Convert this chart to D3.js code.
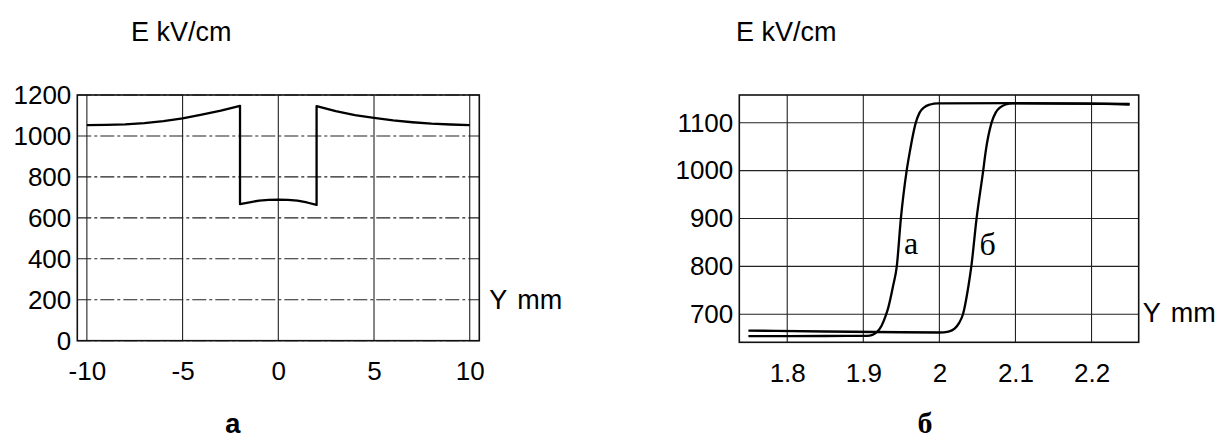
<!DOCTYPE html>
<html>
<head>
<meta charset="utf-8">
<script src="https://cdn.jsdelivr.net/npm/d3@7"></script>
<style>
  body { margin: 0; background: #fff; }
  svg { display: block; font-family: "Liberation Sans", Arial, sans-serif; }
  .grid { stroke: #222; stroke-width: 1.1; }
  .frame { fill: none; stroke: #111; stroke-width: 1.6; }
  .curve { fill: none; stroke: #000; stroke-width: 2.3; stroke-linejoin: round; }
  .tick text { font-size: 26px; fill: #000; }
</style>
</head>
<body>
<svg id="svg" width="1225" height="440"></svg>
<script>
// left panel: field across the whole sample
const leftY = [-10, -9, -8, -7, -6, -5, -4, -3, -2, -2, -1.5, -1, -0.5, 0, 0.5, 1, 1.5, 2, 2, 3, 4, 5, 6, 7, 8, 9, 10];
const leftE = [1053, 1054, 1057, 1063, 1072, 1086, 1104, 1124, 1147, 667, 676, 684, 688, 689, 688, 684, 675, 663, 1146, 1121, 1102, 1088, 1076, 1067, 1060, 1056, 1053];
const leftXTicks = [-10, -5, 0, 5, 10];
const leftETicks = [0, 200, 400, 600, 800, 1000, 1200];

// right panel: zoom on the step, curves "a" and "б"
const rightYa = [1.749, 1.85, 1.905, 1.912, 1.918, 1.924, 1.929, 1.933, 1.939, 1.944, 1.9494, 1.957, 1.961, 1.969, 1.974, 1.98, 1.988, 1.998, 2.1, 2.25];
const rightEa = [654.5, 654.7, 655, 657, 663, 676, 695, 715, 758, 800, 900, 1000, 1038, 1100, 1121, 1132, 1138, 1140.5, 1141, 1139];
const rightYb = [1.749, 1.85, 1.95, 2.0, 2.012, 2.02, 2.026, 2.031, 2.038, 2.042, 2.0489, 2.0576, 2.0607, 2.0686, 2.074, 2.08, 2.087, 2.096, 2.2, 2.25];
const rightEb = [666, 664, 662.5, 662, 664, 670, 682, 700, 757, 800, 900, 1000, 1038, 1100, 1121, 1132, 1138, 1140.5, 1140, 1138];
const rightXTicks = [1.8, 1.9, 2, 2.1, 2.2];
const rightETicks = [700, 800, 900, 1000, 1100];

let container = d3.select("#svg");
container.append("rect").attr("width", 1225).attr("height", 440).attr("fill", "#fff");

function drawPanel(opt) {
  let g = container.append("g");
  let xScale = opt.xScale;
  let yScale = opt.yScale;
  let [x0, x1] = xScale.range();
  let [y0, y1] = yScale.range();

  // grid
  g.selectAll(".hgrid")
    .data(opt.yTicks)
    .enter()
    .append("line")
    .attr("class", "grid")
    .attr("x1", x0)
    .attr("x2", x1)
    .attr("y1", (d) => yScale(d))
    .attr("y2", (d) => yScale(d))
    .attr("stroke-dasharray", opt.hDash);
  g.selectAll(".vgrid")
    .data(opt.xTicks)
    .enter()
    .append("line")
    .attr("class", "grid")
    .attr("y1", y0)
    .attr("y2", y1)
    .attr("x1", (d) => xScale(d))
    .attr("x2", (d) => xScale(d));

  g.append("rect")
    .attr("class", "frame")
    .attr("x", x0)
    .attr("y", y1)
    .attr("width", x1 - x0)
    .attr("height", y0 - y1);

  // axes (labels only), plain numbers with a hyphen minus
  g.append("g")
    .attr("transform", "translate(" + x0 + ",0)")
    .call(d3.axisLeft(yScale).tickValues(opt.yTicks).tickSize(0).tickPadding(6).tickFormat((d) => String(d)))
    .call((a) => a.select(".domain").remove());
  g.append("g")
    .attr("transform", "translate(0," + y0 + ")")
    .call(d3.axisBottom(xScale).tickValues(opt.xTicks).tickSize(0).tickPadding(21).tickFormat((d) => String(d)))
    .call((a) => a.select(".domain").remove());

  let line = d3
    .line()
    .x((d) => xScale(d[0]))
    .y((d) => yScale(d[1]))
    .curve(opt.curve);
  opt.series.forEach((s) => {
    g.append("path")
      .datum(d3.zip(s[0], s[1]))
      .attr("class", "curve")
      .attr("d", line);
  });

  g.append("text")
    .attr("x", opt.titleX)
    .attr("y", 41)
    .style("font-size", "27px")
    .text("E kV/cm");
  g.append("text")
    .attr("x", x1 + opt.unitGap)
    .attr("y", opt.unitY)
    .attr("dy", "0.35em")
    .style("font-size", "27px")
    .style("word-spacing", "3px")
    .text("Y mm");
  return g;
}

let xLeft = d3.scaleLinear().domain([-10.5, 10.5]).range([77.3, 479.3]);
let yLeft = d3.scaleLinear().domain([0, 1200]).range([340.7, 95]);
drawPanel({
  xScale: xLeft,
  yScale: yLeft,
  xTicks: leftXTicks,
  yTicks: leftETicks,
  hDash: "14,3,3,3",
  curve: d3.curveLinear,
  series: [[leftY, leftE]],
  titleX: 131,
  unitY: 300,
  unitGap: 10,
});

let xRight = d3.scaleLinear().domain([1.737, 2.262]).range([739.3, 1138.7]);
let yRight = d3.scaleLinear().domain([641.5, 1157.8]).range([342.3, 95]);
let right = drawPanel({
  xScale: xRight,
  yScale: yRight,
  xTicks: rightXTicks,
  yTicks: rightETicks,
  hDash: null,
  curve: d3.curveMonotoneX,
  series: [
    [rightYa, rightEa],
    [rightYb, rightEb],
  ],
  titleX: 736,
  unitY: 313,
  unitGap: 4,
});

// curve names
right.append("text")
  .attr("x", xRight(1.9494) + 3)
  .attr("y", 254)
  .style("font-family", "'Liberation Serif', serif")
  .style("font-size", "32px")
  .text("a");
right.append("text")
  .attr("x", xRight(2.0489) + 3)
  .attr("y", 255)
  .style("font-family", "'Liberation Serif', serif")
  .style("font-size", "32px")
  .text("б");

// panel captions
container.append("text")
  .attr("x", 233)
  .attr("y", 433)
  .attr("text-anchor", "middle")
  .style("font-family", "'Liberation Mono', monospace")
  .style("font-weight", "bold")
  .style("font-size", "28px")
  .text("a");
container.append("text")
  .attr("x", 925)
  .attr("y", 433)
  .attr("text-anchor", "middle")
  .style("font-family", "'Liberation Serif', serif")
  .style("font-weight", "bold")
  .style("font-size", "30px")
  .text("б");
</script>
</body>
</html>
